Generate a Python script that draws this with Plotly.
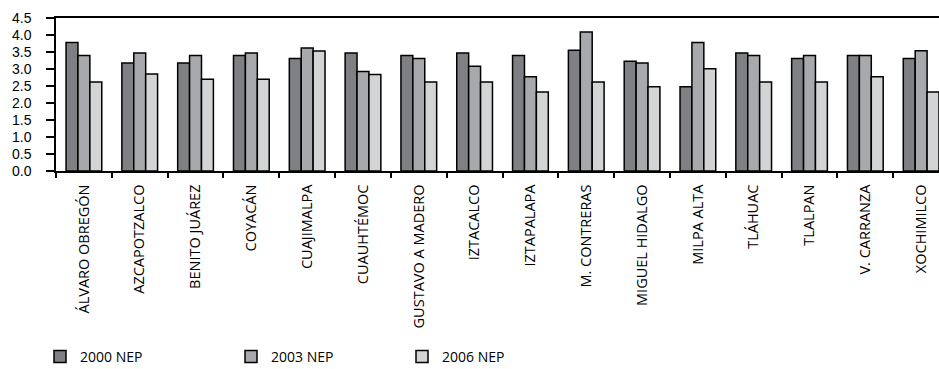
import plotly.graph_objects as go

# Delegaciones of Mexico City and mean values for three survey years
delegaciones = [
    "ÁLVARO OBREGÓN", "AZCAPOTZALCO", "BENITO JUÁREZ", "COYACÁN", "CUAJIMALPA",
    "CUAUHTÉMOC", "GUSTAVO A MADERO", "IZTACALCO", "IZTAPALAPA", "M. CONTRERAS",
    "MIGUEL HIDALGO", "MILPA ALTA", "TLÁHUAC", "TLALPAN", "V. CARRANZA", "XOCHIMILCO",
]
nep_2000 = [3.78, 3.18, 3.18, 3.40, 3.31, 3.47, 3.40, 3.47, 3.40, 3.55, 3.23, 2.48, 3.47, 3.31, 3.40, 3.31]
nep_2003 = [3.40, 3.47, 3.40, 3.47, 3.62, 2.93, 3.31, 3.08, 2.77, 4.09, 3.18, 3.78, 3.40, 3.40, 3.40, 3.54]
nep_2006 = [2.62, 2.85, 2.70, 2.70, 3.53, 2.84, 2.62, 2.62, 2.32, 2.62, 2.48, 3.01, 2.62, 2.62, 2.77, 2.32]

series = [
    ("2000 NEP", nep_2000, "#7f8083", "legend"),
    ("2003 NEP", nep_2003, "#a8a9ac", "legend2"),
    ("2006 NEP", nep_2006, "#d3d4d6", "legend3"),
]

FONT = "Open Sans, Noto Sans, sans-serif"
Y_FONT = "Liberation Sans, Arial, sans-serif"

fig = go.Figure()
for name, vals, color, leg in series:
    fig.add_trace(go.Bar(
        x=delegaciones, y=vals, name=name, legend=leg,
        marker=dict(color=color, line=dict(color="#000000", width=1.5)),
    ))

legend_style = dict(
    xref="container", yref="container", y=1 - 357 / 369, yanchor="middle",
    xanchor="left", orientation="h", bgcolor="rgba(0,0,0,0)",
    font=dict(family=FONT, size=14, color="#000000"),
)

fig.update_layout(
    width=939, height=369,
    margin=dict(l=56, r=0, t=18, b=198),
    paper_bgcolor="#ffffff", plot_bgcolor="#ffffff",
    barmode="group", bargap=0.36, bargroupgap=0,
    font=dict(family=FONT, color="#000000"),
    showlegend=True,
    legend=dict(x=40 / 939, **legend_style),
    legend2=dict(x=231 / 939, **legend_style),
    legend3=dict(x=402 / 939, **legend_style),
    xaxis=dict(
        type="category", range=[-0.5, 15.32],
        tickson="boundaries", ticks="outside", ticklen=5, tickwidth=1.5, tickcolor="#000000",
        tickangle=-90, tickfont=dict(family=FONT, size=14.5, color="#000000"),
        ticklabelstandoff=6,
        showline=True, linecolor="#000000", linewidth=1.5, mirror=True,
        showgrid=False, zeroline=False,
    ),
    yaxis=dict(
        range=[0, 4.5], tickvals=[0, 0.5, 1, 1.5, 2, 2.5, 3, 3.5, 4, 4.5],
        ticktext=["0.0", "0.5", "1.0", "1.5", "2.0", "2.5", "3.0", "3.5", "4.0", "4.5"],
        ticks="outside", ticklen=8, tickwidth=1.5, tickcolor="#000000",
        tickfont=dict(family=Y_FONT, size=14, color="#000000"),
        ticklabelstandoff=12,
        showline=True, linecolor="#000000", linewidth=1.5,
        showgrid=False, zeroline=False,
    ),
)

fig.write_html("out.html")
